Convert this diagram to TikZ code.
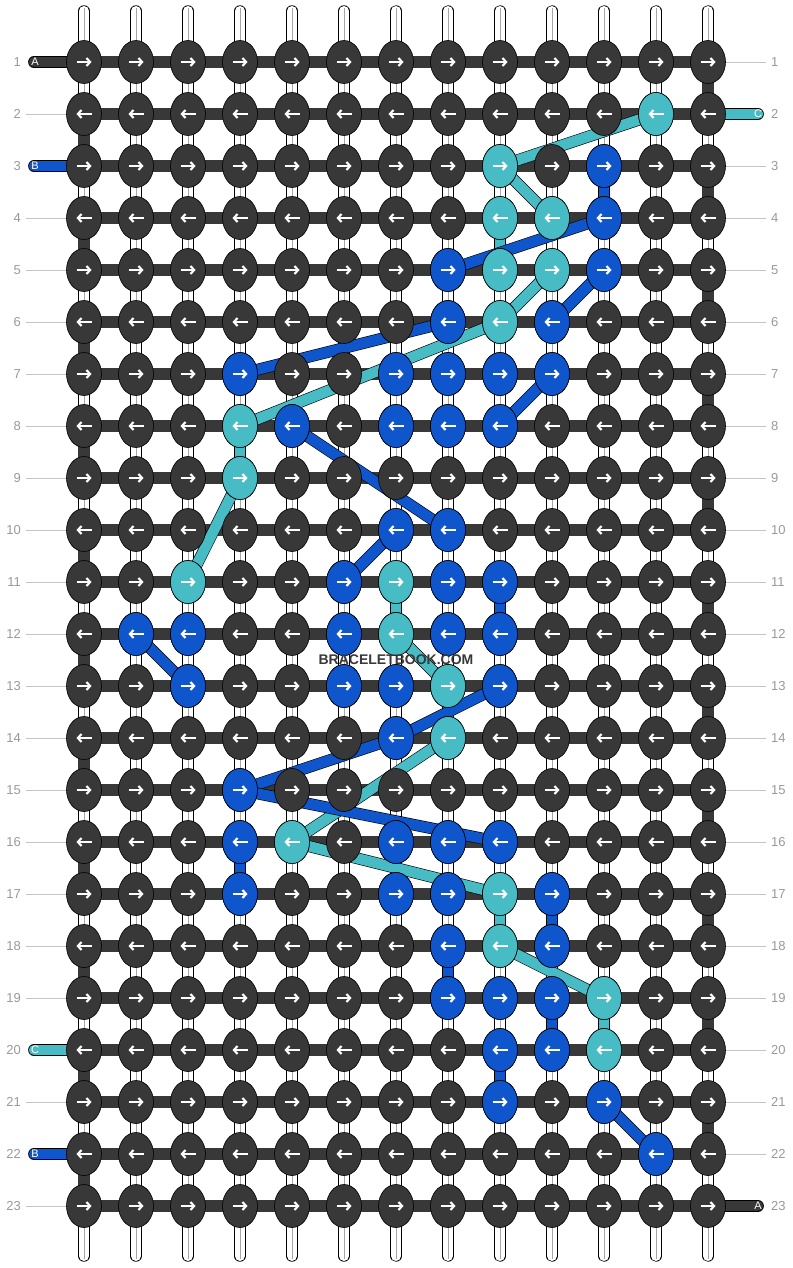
\documentclass[tikz,border=0pt]{standalone}
\usepackage{fontspec}
\setmainfont{Liberation Sans}
\usepackage{xcolor}
\usetikzlibrary{shapes.geometric,arrows.meta,backgrounds}

\definecolor{knotdark}{HTML}{383838}
\definecolor{knotblue}{HTML}{0F55CC}
\definecolor{knotcyan}{HTML}{47BCC5}
\definecolor{numgray}{HTML}{999999}
\definecolor{linegray}{HTML}{C4C4C4}

\begin{document}
\begin{tikzpicture}[
    x=1pt, y=-1pt,
    knot/.style={ellipse, draw=black, line width=0.6pt, minimum width=35pt, minimum height=43pt, inner sep=0pt, fill=#1},
    knot/.default=knotdark,
    knotarrow/.style={white, line width=2.1pt, -{Straight Barb[length=3.6pt, width=8pt]}},
    warp/.style={draw=black, line width=0.7pt, double=white, double distance=10pt, line cap=round},
    warpcore/.style={draw=black!35, line width=0.6pt},
    weft/.style={draw=knotdark, line width=12pt},
    band/.style={draw=black, line width=0.6pt, double=#1, double distance=10.5pt},
    rowline/.style={draw=linegray, line width=0.8pt},
    rownum/.style={text=numgray, font=\fontsize{13}{15}\selectfont, inner sep=0pt},
    tag/.style={text=white, font=\fontsize{11}{13}\selectfont, inner sep=0pt},
    watermark/.style={text=knotdark, font=\fontsize{14}{16}\selectfont\bfseries, inner sep=0pt}
]
\useasboundingbox (0,0) rectangle (792,1268);

% knot grid
\foreach \r in {1,...,23}
  \foreach \c in {1,...,13}
    \node[knot] (k\r-\c) at ({84+52*(\c-1)}, {62+52*(\r-1)}) {};

% coloured knots
\foreach \r/\c in {3/11,4/11,5/8,5/11,6/8,6/10,7/4,7/7,7/8,7/9,7/10,8/5,8/7,8/8,8/9,
    10/7,10/8,11/6,11/8,11/9,12/2,12/3,12/6,12/8,12/9,13/3,13/6,13/7,13/9,14/7,15/4,
    16/4,16/7,16/8,16/9,17/4,17/7,17/8,17/10,18/8,18/10,19/8,19/9,19/10,20/9,20/10,
    21/9,21/11,22/12}
  \node[knot=knotblue] (b\r-\c) at (k\r-\c) {};
\foreach \r/\c in {2/12,3/9,4/9,4/10,5/9,5/10,6/9,8/4,9/4,11/3,11/7,12/7,13/8,14/8,
    16/5,17/9,18/9,19/11,20/11}
  \node[knot=knotcyan] (c\r-\c) at (k\r-\c) {};

% knot arrows
\foreach \r in {1,...,23}
  \foreach \c in {1,...,13} {
    \ifodd\r
      \draw[knotarrow] ([xshift=-7.5pt]k\r-\c.center) -- ([xshift=7.5pt]k\r-\c.center);
    \else
      \draw[knotarrow] ([xshift=7.5pt]k\r-\c.center) -- ([xshift=-7.5pt]k\r-\c.center);
    \fi
  }

% row numbers and strand tags
\foreach \r in {1,...,23} {
  \node[rownum, anchor=east] (nl\r) at (21, {62+52*(\r-1)}) {\r};
  \node[rownum, anchor=west] (nr\r) at (771, {62+52*(\r-1)}) {\r};
}
\foreach \r/\t in {1/A,3/B,20/C,22/B}
  \node[tag] (tl\r) at (35, {62+52*(\r-1)}) {\t};
\foreach \r/\t in {2/C,23/A}
  \node[tag] (tr\r) at (758, {62+52*(\r-1)}) {\t};

\node[watermark] (wm) at (396,660) {BRACELETBOOK.COM};

\begin{scope}[on background layer]
  % vertical strands
  \foreach \c in {1,...,13} {
    \draw[warp] ([yshift=51pt]k1-\c.center) -- ([yshift=-50pt]k23-\c.center);
    \draw[warpcore] ([yshift=54pt]k1-\c.center) -- ([yshift=-53pt]k23-\c.center);
  }
  % row strands and turns
  \foreach \r in {1,...,23}
    \draw[weft] (k\r-1.center) -- (k\r-13.center);
  \foreach \r [evaluate=\r as \s using int(\r+1)] in {2,4,...,22}
    \draw[weft] (k\r-1.center) -- (k\s-1.center);
  \foreach \r [evaluate=\r as \s using int(\r+1)] in {1,3,...,21}
    \draw[weft] (k\r-13.center) -- (k\s-13.center);
  % row guide lines
  \foreach \r in {2,4,5,...,19,21,23}
    \draw[rowline] ([xshift=5pt]nl\r.east) -- (k\r-1.west);
  \foreach \r in {1,3,4,...,22}
    \draw[rowline] (k\r-13.east) -- ([xshift=-5pt]nr\r.west);
  % strand ends
  \draw[band=knotdark, line cap=round] ([xshift=-1pt]tl1.center) -- (k1-1.center);
  \draw[band=knotblue, line cap=round] ([xshift=-1pt]tl3.center) -- (k3-1.center);
  \draw[band=knotcyan, line cap=round] ([xshift=-1pt]tl20.center) -- (k20-1.center);
  \draw[band=knotblue, line cap=round] ([xshift=-1pt]tl22.center) -- (k22-1.center);
  \draw[band=knotcyan, line cap=round] (tr2.center) -- (k2-13.center);
  \draw[band=knotdark, line cap=round] (tr23.center) -- (k23-13.center);
  % colour runs
  \foreach \a/\b in {2-12/3-9,3-9/4-10,4-9/5-9,5-10/6-9,6-9/8-4,8-4/9-4,9-4/11-3,
      11-7/12-7,12-7/13-8,13-8/14-8,14-8/16-5,16-5/17-9,17-9/18-9,18-9/19-11,19-11/20-11}
    \draw[band=knotcyan] (k\a.center) -- (k\b.center);
  \foreach \a/\b in {3-11/4-11,5-8/4-11,5-11/6-10,6-8/7-4,7-10/8-9,8-5/10-8,10-7/11-6,
      11-9/12-9,12-2/13-3,13-9/14-7,14-7/15-4,15-4/16-9,16-4/17-4,17-10/18-10,
      18-8/19-8,19-10/20-10,20-9/21-9,21-11/22-12}
    \draw[band=knotblue] (k\a.center) -- (k\b.center);
\end{scope}

\end{tikzpicture}
\end{document}
